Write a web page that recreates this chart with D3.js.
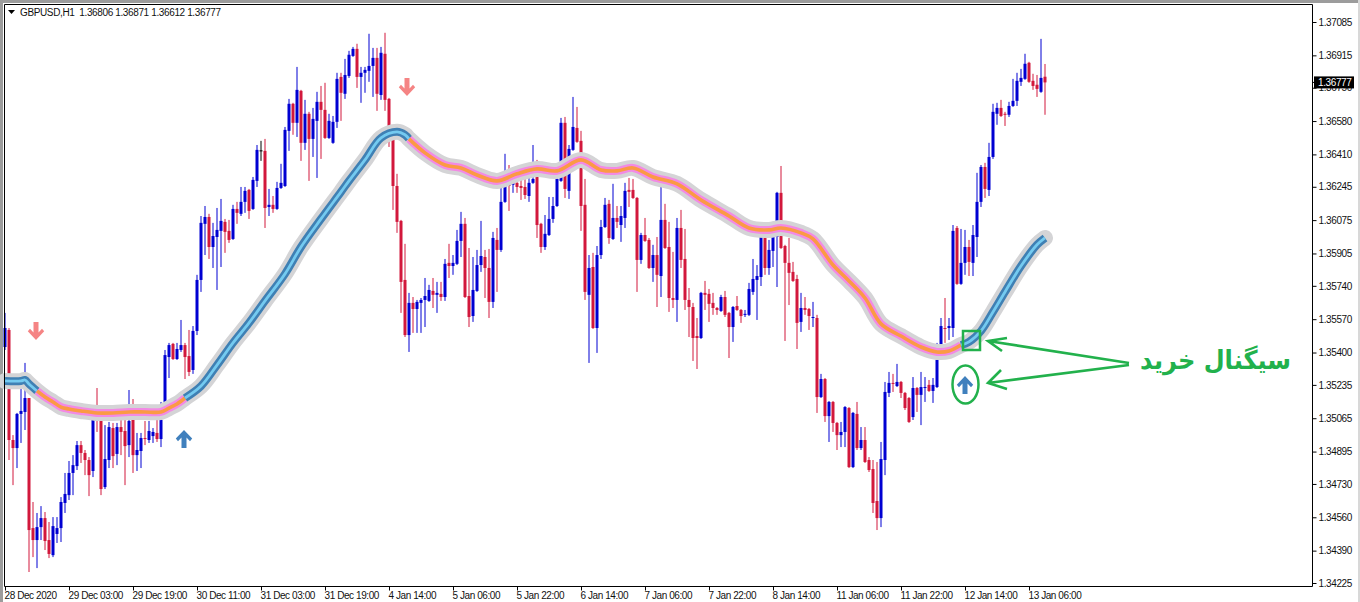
<!DOCTYPE html>
<html><head><meta charset="utf-8">
<script src="https://cdn.jsdelivr.net/npm/d3@7/dist/d3.min.js"></script>
<style>
html,body{margin:0;padding:0;background:#fff;overflow:hidden}
svg{display:block}
text{font-family:"Liberation Sans",Arial,sans-serif;font-size:10px;fill:#111}
</style></head><body><svg id="c" width="1360" height="602"></svg>
<script>
// Quotes are listed in 1e-5 units above 1.00000 (36806 means 1.36806)
const opens=[
35428,35515,34954,34913,35087,35097,35168,34505,34444,34510,
34556,34444,34367,34475,34505,34633,34673,34786,34821,34928,
34888,34852,34796,35081,35051,34714,34852,35015,34883,35020,
35000,34928,35056,34877,34898,34964,34954,34974,34990,34959,
35148,35377,35444,35367,35413,35438,35382,35311,35510,35770,
36056,36091,35938,35989,36020,36066,36020,35979,36132,36107,
36168,36229,36132,36275,36428,36428,36142,36153,36132,36239,
36249,36530,36668,36571,36734,36469,36617,36489,36581,36678,
36637,36494,36469,36576,36805,36719,36810,36912,36948,36805,
36826,36836,36861,36902,36713,36923,36693,36484,36249,36071,
35770,35489,35653,35622,35653,35668,35663,35714,35694,35699,
35683,35857,35841,35852,35969,36056,35688,35586,35714,35846,
35887,35831,35658,35974,35923,36168,36290,36255,36265,36249,
36244,36198,36265,36346,36056,35938,35999,36081,36147,36275,
36571,36224,36433,36545,36479,36153,35694,35836,35525,35897,
36040,36158,35979,36086,36050,36086,36229,36229,36188,35872,
35999,35974,35831,35897,35790,36076,35938,35678,35668,36035,
35877,35668,35632,35484,35474,35704,35699,35653,35627,35612,
35683,35602,35530,35637,35617,35592,35592,35709,35770,35785,
35989,35831,35918,35989,36214,35943,35857,35811,35775,35556,
35627,35622,35576,35576,35173,35265,35076,35148,35041,34979,
34995,35117,34816,35087,34913,34954,34852,34806,34643,34556,
34852,35194,35245,35229,35250,35194,35168,35071,35219,35184,
35219,35235,35204,35224,35413,35525,35525,35525,36035,35750,
35857,35938,35857,35989,36168,36346,36229,36397,36617,36647,
36617,36612,36657,36683,36780,36795,36877,36785,36765,36729,
36806];
const closes=[
35525,34954,34913,35087,35102,35168,34495,34444,34510,34556,
34439,34373,34515,34505,34638,34679,34786,34826,34928,34888,
34852,34775,35056,35051,34704,34857,35020,34872,35020,34995,
34923,35051,34877,34903,34964,34959,35000,34995,34959,35056,
35387,35438,35367,35418,35438,35377,35301,35510,35770,36061,
36091,35938,35994,36025,36071,36015,35974,36132,36112,36168,
36224,36122,36280,36433,36428,36137,36153,36132,36239,36265,
36535,36668,36571,36739,36469,36617,36489,36591,36678,36637,
36494,36581,36576,36795,36724,36815,36918,36948,36805,36826,
36841,36861,36902,36719,36928,36688,36555,36249,36066,35760,
35489,35653,35622,35658,35668,35688,35719,35694,35704,35683,
35852,35841,35857,35969,36056,35683,35581,35719,35846,35892,
35831,35658,35984,35923,36168,36280,36249,36280,36244,36239,
36203,36265,36285,36050,35938,36005,36081,36147,36285,36571,
36234,36438,36550,36474,36147,35709,35831,35525,35897,36040,
36153,35984,36086,36066,36096,36224,36219,36188,35872,35999,
35969,35831,35897,35796,36076,35933,35678,35668,36035,35872,
35668,35632,35474,35474,35704,35694,35648,35627,35617,35683,
35592,35530,35632,35617,35586,35597,35724,35775,35790,35989,
35831,35923,35989,36214,35933,35857,35806,35765,35551,35627,
35617,35586,35581,35173,35265,35076,35148,35041,34979,34995,
35122,34816,35092,34913,34954,34842,34801,34633,34556,34857,
35199,35245,35240,35250,35194,35117,35046,35219,35184,35224,
35224,35204,35235,35362,35535,35520,35535,36020,35750,35857,
35938,35862,35999,36168,36346,36234,36397,36627,36647,36606,
36612,36657,36683,36785,36800,36872,36780,36759,36744,36800,
36777];
const highs=[
35602,35525,34979,35092,35219,35347,35168,34638,34582,34617,
34587,34536,34561,34561,34663,34786,34847,34877,34949,34949,
34903,34867,35066,35219,35066,35030,35046,35041,35041,35127,
35056,35209,35163,34990,34990,35051,35051,35015,35056,35148,
35413,35449,35449,35449,35566,35449,35515,35535,35796,36096,
36147,36107,36061,36137,36183,36081,36076,36153,36168,36244,
36244,36234,36295,36458,36479,36489,36234,36198,36270,36362,
36550,36693,36673,36856,36739,36688,36627,36647,36729,36759,
36775,36617,36606,36826,36826,36897,36938,36958,36974,36856,
36856,37025,36953,36953,36958,37030,36698,36545,36311,36076,
35954,35704,35683,35668,35678,35780,35745,35780,35760,35760,
35877,35954,35897,36025,36117,36086,35933,35887,35923,36071,
35923,35928,36015,36035,36239,36413,36356,36341,36331,36305,
36305,36295,36458,36382,36061,36101,36193,36193,36331,36596,
36601,36458,36703,36652,36530,36285,35897,35908,35943,36076,
36188,36178,36260,36147,36147,36265,36290,36285,36193,36010,
36086,35984,35949,35989,36249,36158,36066,35913,36086,36127,
36030,35729,35653,35576,35709,35765,35724,35704,35632,35694,
35714,35607,35637,35688,35622,35617,35755,35877,35846,36015,
36015,35974,36066,36219,36351,35949,35984,35862,35796,35704,
35683,35627,35658,35592,35291,35270,35153,35153,35046,35046,
35127,35122,35097,35148,35020,35020,34867,34852,34842,34944,
35250,35301,35291,35342,35255,35199,35173,35275,35224,35301,
35275,35260,35270,35449,35576,35678,35576,36050,36045,36030,
36025,35974,36050,36316,36356,36367,36469,36668,36673,36688,
36627,36678,36795,36826,36846,36923,36882,36821,36815,36999,
36871];
const lows=[
35413,34852,34724,34811,34939,35005,34281,34357,34301,34444,
34393,34352,34357,34429,34434,34582,34648,34673,34801,34837,
34775,34668,34765,34995,34673,34704,34811,34811,34826,34877,
34724,34867,34786,34796,34811,34928,34939,34939,34944,34918,
35143,35270,35362,35362,35403,35265,35280,35291,35489,35709,
35897,35877,35831,35719,35836,35908,35959,35974,36056,36096,
36112,36081,36127,36244,36377,36035,36096,36112,36127,36234,
36244,36428,36510,36499,36377,36433,36275,36397,36290,36387,
36489,36489,36464,36545,36581,36693,36800,36907,36749,36673,
36724,36780,36703,36632,36688,36632,36448,36127,36010,35602,
35479,35403,35500,35500,35500,35530,35658,35627,35602,35663,
35663,35780,35796,35846,35887,35678,35530,35556,35709,35811,
35678,35576,35627,35709,35913,36163,36122,36214,36214,36178,
36183,36168,36260,35984,35908,35923,35994,36061,36142,36270,
36188,36183,36428,36469,36020,35668,35347,35520,35398,35877,
36035,35954,35974,36035,35964,36035,36142,36183,35709,35852,
35964,35826,35760,35632,35683,35928,35607,35627,35556,35831,
35617,35479,35357,35316,35469,35617,35556,35592,35592,35607,
35581,35372,35454,35612,35551,35581,35586,35694,35566,35739,
35796,35796,35836,35734,35928,35459,35642,35760,35418,35505,
35592,35515,35530,35092,35168,35046,34944,34995,34903,34918,
34918,34811,34811,34903,34903,34837,34791,34582,34495,34510,
34775,35173,35199,35224,35168,35107,35041,35056,35097,35030,
35148,35199,35143,35219,35408,35449,35464,35479,35745,35745,
35796,35790,35790,35887,36142,36188,36198,36387,36561,36601,
36555,36601,36652,36657,36759,36790,36775,36739,36703,36724,
36612];

// Moving-average line at these bar numbers
const maBars=[0,4,5,6,8,10,12,14,16,19,23,27,31,35,39,41,43,45,49,53,57,61,65,70,74,79,84,86,90,94,98,100,101,105,110,114,118,123,128,133,138,144,149,153,157,162,168,174,181,186,191,194,199,202,207,211,215,219,224,229,233,236,239,241,244,247,250,254,258,260];
const maValues=[35255,35255,35260,35240,35204,35173,35148,35122,35112,35102,35092,35092,35097,35097,35097,35117,35138,35168,35229,35336,35449,35551,35663,35801,35938,36081,36219,36275,36382,36494,36525,36510,36489,36418,36356,36341,36305,36275,36311,36336,36326,36382,36331,36326,36341,36295,36260,36178,36096,36035,36025,36035,36010,35979,35846,35765,35678,35546,35484,35428,35403,35408,35438,35454,35510,35607,35709,35841,35949,35984];
const trendBreaks=[8,45,101,239];           // bars where the line changes colour
const trendNames=["up","down","up","down","up"];

const signalBars=[7.75,44.75,100.5,240];
const signalValues=[35510,34959,36754,35234];
const signalNames=["down","up","down","up"];

const priceTicks=[37085,36915,36750,36580,36410,36245,36075,35905,35740,35570,35400,35235,35065,34895,34730,34560,34390,34225];
const timeTickBars=[0,16,32,48,64,80,96,112,128,144,160,176,192,208,224,240,256];
const timeTickLabels=["28 Dec 2020","29 Dec 03:00","29 Dec 19:00","30 Dec 11:00","31 Dec 03:00","31 Dec 19:00","4 Jan 14:00","5 Jan 06:00","5 Jan 22:00","6 Jan 14:00","7 Jan 06:00","7 Jan 22:00","8 Jan 14:00","11 Jan 06:00","11 Jan 22:00","12 Jan 14:00","13 Jan 06:00"];
const chartTitle="GBPUSD,H1  1.36806 1.36871 1.36612 1.36777";
const lastPrice=36777;
const noteText="سیگنال خرید";

const price=p=>1+p/1e5;
const svg=d3.select("#c");
const x=d3.scaleLinear().domain([0,260]).range([5,1045]);
const y=d3.scaleLinear().domain([price(34225),price(37085)]).range([583,22]);
const L=4.5,R=1312.5,T=4.5,B=586.5;

// window frame
svg.append("rect").attr("x",0).attr("y",0).attr("width",1360).attr("height",3).attr("fill","#9c9c9c");
svg.append("rect").attr("x",0).attr("y",0).attr("width",3).attr("height",602).attr("fill","#9c9c9c");
svg.append("rect").attr("x",1358).attr("y",0).attr("width",2).attr("height",602).attr("fill","#d8d8d8");

const UP="#0000d2",DN="#d2183c";
const color=i=>closes[i]>opens[i]?UP:closes[i]<opens[i]?DN:"#000";
const bars=svg.append("g").selectAll("g").data(d3.range(opens.length)).join("g");
bars.append("line").attr("x1",i=>x(i)).attr("x2",i=>x(i))
  .attr("y1",i=>y(price(highs[i]))).attr("y2",i=>y(price(lows[i])))
  .attr("stroke",color).attr("stroke-width",1);
bars.filter(i=>opens[i]!==closes[i]).append("rect")
  .attr("x",i=>x(i)-1.5).attr("width",3)
  .attr("y",i=>y(price(Math.max(opens[i],closes[i]))))
  .attr("height",i=>Math.abs(y(price(opens[i]))-y(price(closes[i]))))
  .attr("fill",color);
bars.filter(i=>opens[i]===closes[i]).append("line")
  .attr("x1",i=>x(i)-1.5).attr("x2",i=>x(i)+1.5)
  .attr("y1",i=>y(price(opens[i]))).attr("y2",i=>y(price(opens[i])))
  .attr("stroke","#000");

// moving-average band
const maPts=maBars.map((b,k)=>[x(b),y(price(maValues[k]))]);
const ln=d3.line().curve(d3.curveCatmullRom.alpha(0.5));
const band=svg.append("g").attr("fill","none");
band.append("path").attr("d",ln(maPts)).attr("stroke","#d4d4d6").attr("stroke-width",16).attr("stroke-linecap","round").attr("stroke-linejoin","round");
const edges=[0,...trendBreaks,260];
const styles={up:["#3f80b4","#74caf0"],down:["#f28ae4","#fb9a44"]};
trendNames.forEach((t,k)=>{
  const seg=maPts.filter((p,j)=>maBars[j]>=edges[k]&&maBars[j]<=edges[k+1]);
  band.append("path").attr("d",ln(seg)).attr("stroke",styles[t][0]).attr("stroke-width",8);
  band.append("path").attr("d",ln(seg)).attr("stroke",styles[t][1]).attr("stroke-width",t==="up"?2.8:3.6);
});

// signal arrows
const arrowUp="M-2.5,9 V-1.5 L-6,2.2 L-8.2,-0.4 L0,-9 L8.2,-0.4 L6,2.2 L2.5,-1.5 V9 Z";
svg.append("g").selectAll("path").data(signalBars).join("path")
  .attr("d",arrowUp)
  .attr("transform",(b,k)=>`translate(${x(b)},${y(price(signalValues[k]))}) rotate(${signalNames[k]==="down"?180:0})`)
  .attr("fill",(b,k)=>signalNames[k]==="down"?"#f58484":"#4080bd");

// frame and axes
svg.append("path").attr("d",`M${L},${B} V${T} H${R} V${B} H${L}`).attr("fill","none").attr("stroke","#000").attr("stroke-width",1);
const ya=d3.axisRight(y).tickValues(priceTicks.map(price)).tickSize(4).tickPadding(1).tickFormat(d3.format(".5f"));
const yg=svg.append("g").attr("transform",`translate(${R},0)`).call(ya);
yg.select(".domain").remove();
yg.selectAll("line").attr("stroke","#000");
yg.selectAll("text").attr("x",6).style("letter-spacing","-0.38px").style("font-size","10px");
const xa=d3.axisBottom(x).tickValues(timeTickBars).tickSize(4).tickFormat((d,i)=>timeTickLabels[i]);
const xg=svg.append("g").attr("transform",`translate(0,${B})`).call(xa);
xg.select(".domain").remove();
xg.selectAll("line").attr("stroke","#000").attr("x1",0).attr("x2",0);
xg.selectAll("text").attr("text-anchor","start").attr("dx",-1).attr("y",5).style("letter-spacing","-0.42px").style("font-size","10px");

// last price tag
const ly=y(price(lastPrice));
svg.append("rect").attr("x",1314).attr("y",ly-6).attr("width",40).attr("height",12).attr("fill","#000");
svg.append("line").attr("x1",R).attr("x2",1316).attr("y1",ly).attr("y2",ly).attr("stroke","#000");
svg.append("text").attr("x",1318).attr("y",ly+3.8).text(d3.format(".5f")(price(lastPrice))).style("fill","#fff").style("letter-spacing","-0.38px");

// title
svg.append("path").attr("d","M8,10 H15 L11.5,14 Z").attr("fill","#000");
svg.append("text").attr("x",20).attr("y",16).attr("xml:space","preserve").style("white-space","pre").style("letter-spacing","-0.37px").text(chartTitle);

// green annotations
const G="#22b14c";
const ann=svg.append("g").attr("fill","none").attr("stroke",G);
ann.append("rect").attr("x",963).attr("y",331).attr("width",17).attr("height",19).attr("stroke-width",2.5);
ann.append("ellipse").attr("cx",965.5).attr("cy",384.5).attr("rx",13).attr("ry",19).attr("stroke-width",2.5);
ann.append("path").attr("d","M1129,363 L988,341 M1007,338 L988,341 L1002,351").attr("stroke-width",2.6);
ann.append("path").attr("d","M1129,365 L988,383 M1001,370 L988,383 L1007,389").attr("stroke-width",2.6);
svg.append("text").attr("x",1291).attr("y",369).attr("direction","rtl").attr("text-anchor","start")
  .style("font-family","'DejaVu Sans'").style("font-size","26px").style("font-weight","bold").style("fill",G).attr("textLength",151).attr("lengthAdjust","spacingAndGlyphs").text(noteText);
</script></body></html>
